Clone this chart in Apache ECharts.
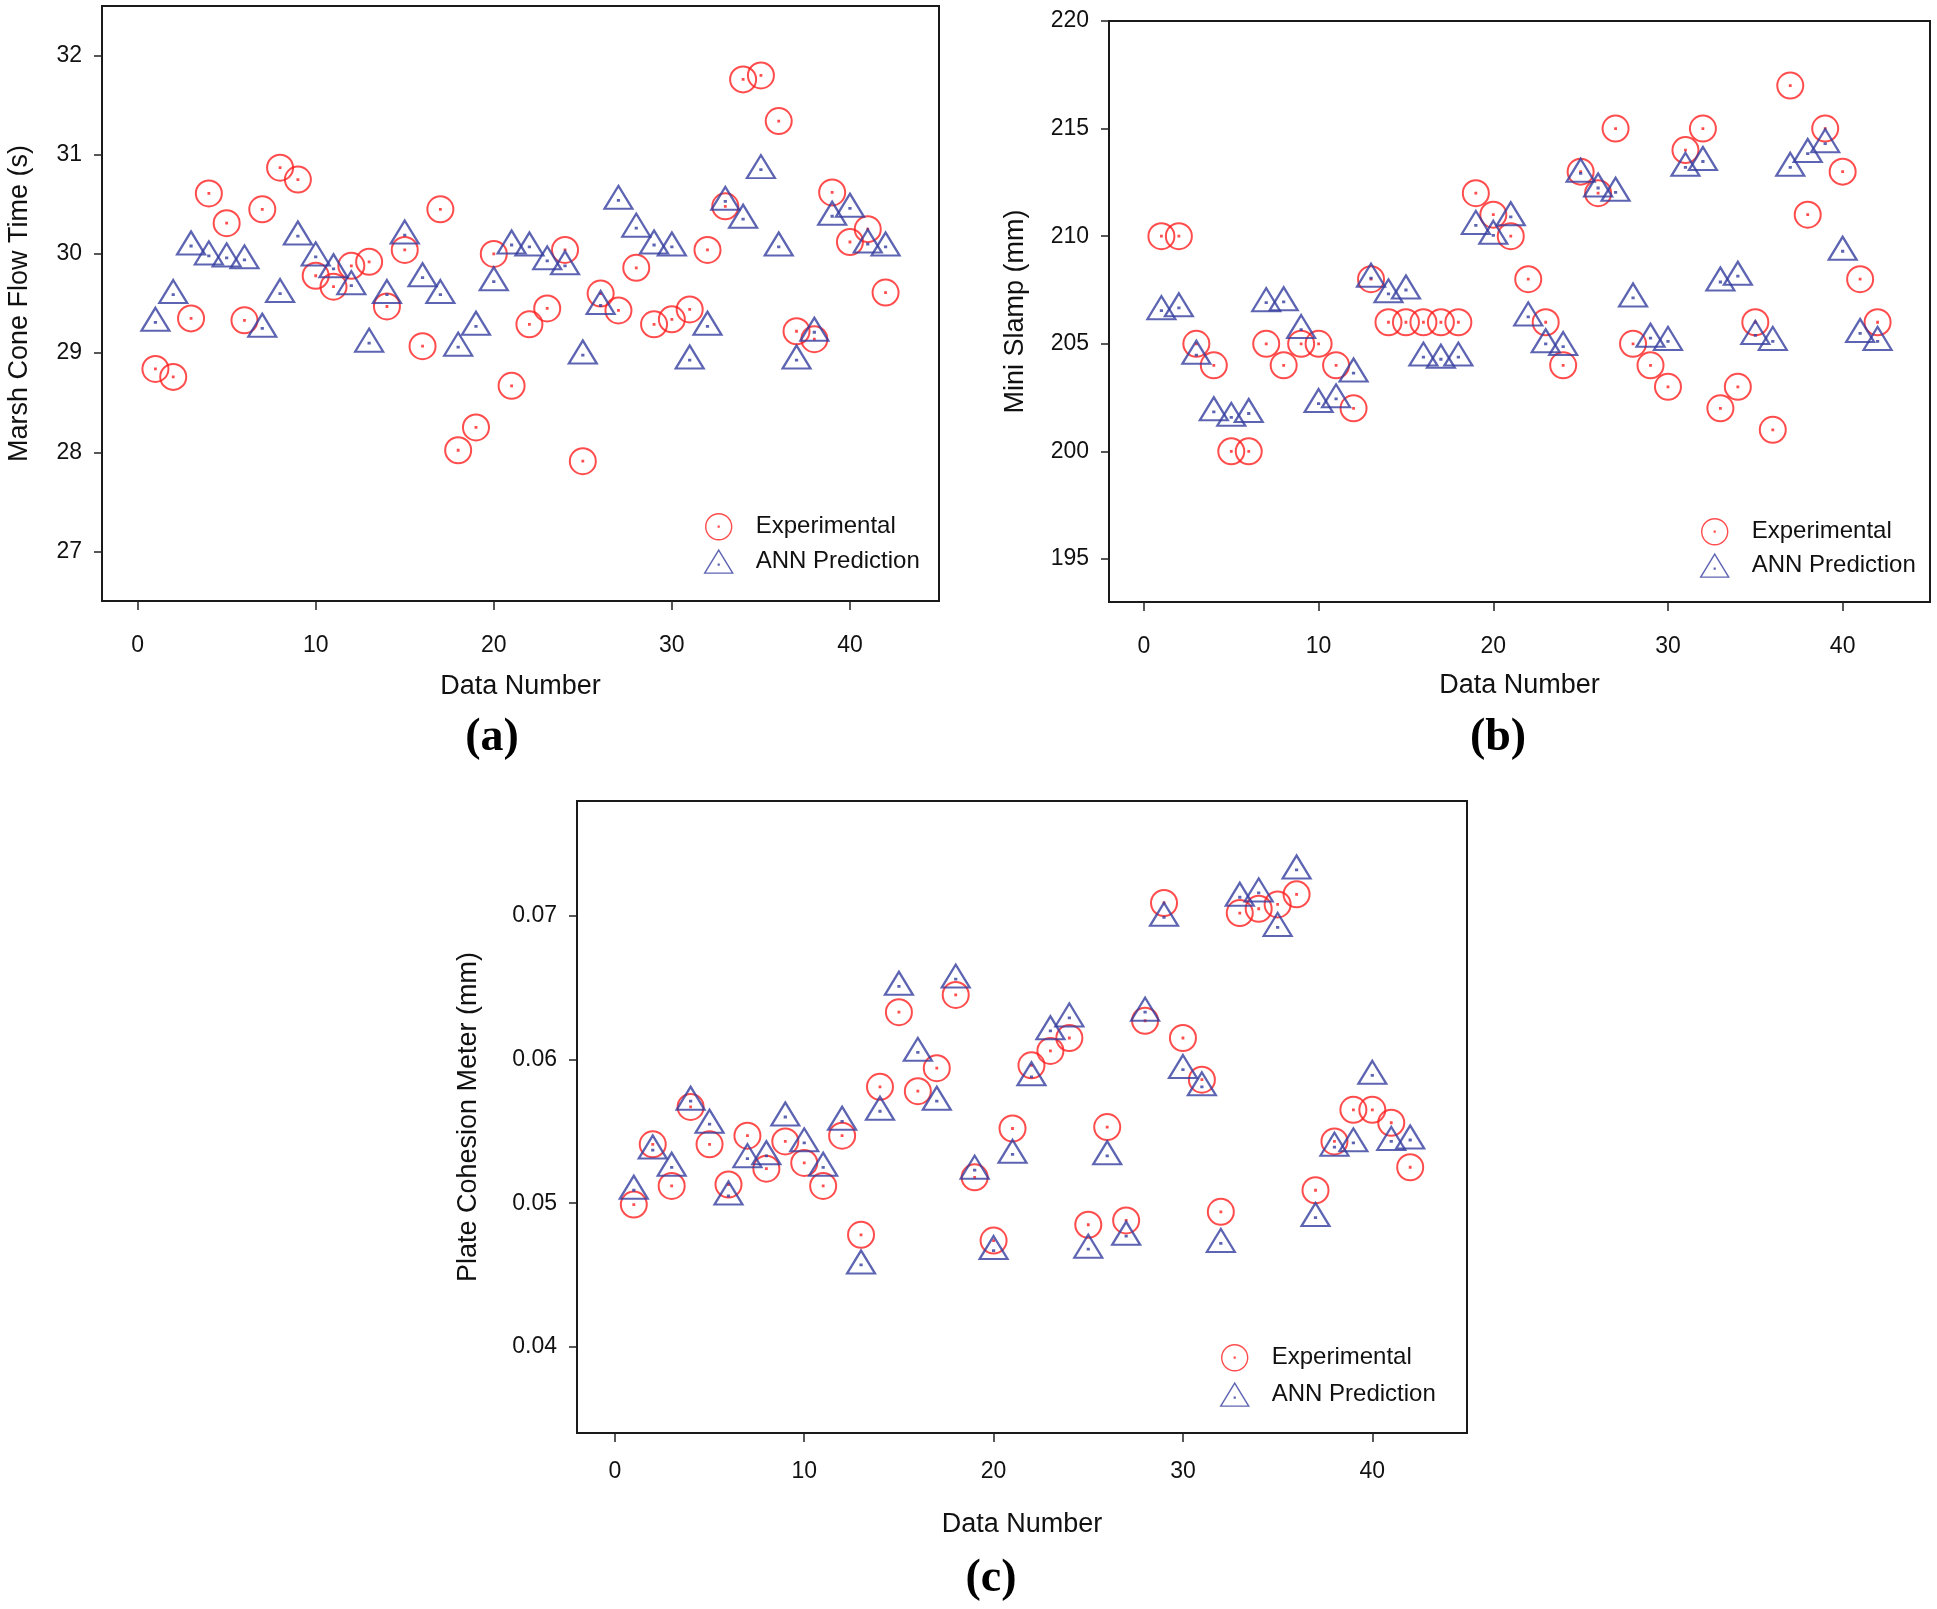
<!DOCTYPE html>
<html>
<head>
<meta charset="utf-8">
<title>Experimental vs ANN Prediction</title>
<script src="https://cdn.jsdelivr.net/npm/echarts@6/dist/echarts.min.js"></script>
<style>
  html, body { margin: 0; padding: 0; background: #fff; }
  #chart { width: 1937px; height: 1609px; }
</style>
</head>
<body>
<div id="chart"></div>
<script>
// x values, same for the three panels
const dataNumber = [1, 2, 3, 4, 5, 6, 7, 8, 9, 10, 11, 12, 13, 14, 15, 16, 17, 18, 19, 20, 21,
  22, 23, 24, 25, 26, 27, 28, 29, 30, 31, 32, 33, 34, 35, 36, 37, 38, 39, 40, 41, 42];

// (a) marsh cone flow time (s)
const marshExp = [28.84, 28.76, 29.35, 30.61, 30.31, 29.33, 30.45, 30.87, 30.75, 29.78, 29.67,
  29.88, 29.92, 29.47, 30.04, 29.07, 30.45, 28.02, 28.25, 30.0, 28.67, 29.29, 29.45, 30.04, 27.91,
  29.6, 29.43, 29.86, 29.29, 29.34, 29.44, 30.04, 30.48, 31.76, 31.8, 31.34, 29.22, 29.14, 30.62,
  30.12, 30.25, 29.61];
const marshAnn = [29.31, 29.59, 30.08, 29.98, 29.96, 29.94, 29.25, 29.6, 30.18, 29.97, 29.85,
  29.68, 29.1, 29.59, 30.19, 29.76, 29.59, 29.06, 29.27, 29.72, 30.09, 30.07, 29.93, 29.88, 28.98,
  29.48, 30.54, 30.26, 30.09, 30.07, 28.93, 29.27, 30.53, 30.35, 30.85, 30.07, 28.93, 29.21, 30.38,
  30.46, 30.1, 30.07];

// (b) mini slump (mm)
const slumpExp = [210, 210, 205, 204, 200, 200, 205, 204, 205, 205, 204, 202, 208, 206, 206, 206,
  206, 206, 212, 211, 210, 208, 206, 204, 213, 212, 215, 205, 204, 203, 214, 215, 202, 203, 206,
  201, 217, 211, 215, 213, 208, 206];
const slumpAnn = [206.54, 206.67, 204.47, 201.84, 201.58, 201.76, 206.91, 206.95, 205.66, 202.22,
  202.44, 203.64, 208.05, 207.32, 207.5, 204.38, 204.28, 204.38, 210.5, 210.04, 210.9, 206.25,
  205.0, 204.87, 212.92, 212.24, 212.04, 207.13, 205.26, 205.11, 213.2, 213.47, 207.87, 208.14,
  205.39, 205.11, 213.2, 213.84, 214.3, 209.3, 205.48, 205.11];

// (c) plate cohesion meter (mm)
const cohesionExp = [0.0499, 0.0541, 0.0512, 0.0567, 0.0541, 0.0513, 0.0547, 0.0524, 0.0543,
  0.0528, 0.0512, 0.0547, 0.0478, 0.0581, 0.0633, 0.0578, 0.0594, 0.0645, 0.0518, 0.0474, 0.0552,
  0.0596, 0.0606, 0.0615, 0.0485, 0.0553, 0.0488, 0.0627, 0.0709, 0.0615, 0.0586, 0.0494, 0.0702,
  0.0705, 0.0708, 0.0715, 0.0509, 0.0543, 0.0565, 0.0565, 0.0556, 0.0525];
const cohesionAnn = [0.0509, 0.0537, 0.0525, 0.0571, 0.0555, 0.0505, 0.0531, 0.0533, 0.056,
  0.0542, 0.0525, 0.0557, 0.0457, 0.0564, 0.0651, 0.0605, 0.0571, 0.0656, 0.0523, 0.0467, 0.0534,
  0.0588, 0.062, 0.0629, 0.0468, 0.0533, 0.0477, 0.0633, 0.0699, 0.0593, 0.0581, 0.0472, 0.0713,
  0.0716, 0.0692, 0.0732, 0.049, 0.0539, 0.0542, 0.0589, 0.0543, 0.0544];

// tick labels
const xTicks = [0, 10, 20, 30, 40];
const marshTicks = [27, 28, 29, 30, 31, 32];
const slumpTicks = [195, 200, 205, 210, 215, 220];
const cohesionTicks = [0.04, 0.05, 0.06, 0.07];

const RED = '#ff2020';
const BLUE = '#353d9f';
const FONT = '"Liberation Sans", Arial, sans-serif';
// open circle / open triangle, each with a small dot in the middle
const circleSym = 'path://M0,13A13,13 0 1 0 26,13A13,13 0 1 0 0,13Z M12.6,12.6h0.8v0.8h-0.8Z';
const triSym = 'path://M14,0L28,23L0,23Z M13.6,14.1h0.8v0.8h-0.8Z';

const chart = echarts.init(document.getElementById('chart'));

const grids = [
  { left: 102, top: 6, width: 837, height: 595 },
  { left: 1109, top: 21, width: 821, height: 581 },
  { left: 577, top: 801, width: 890, height: 632 }
];

const xAxisFor = (i, nameGap, labelMargin) => ({
  type: 'value',
  gridIndex: i,
  min: -2,
  max: 45,
  name: 'Data Number',
  nameLocation: 'middle',
  nameGap: nameGap,
  nameTextStyle: { fontFamily: FONT, fontSize: 27, color: '#111' },
  axisLine: { show: false, onZero: false },
  axisTick: { show: true, length: 9, customValues: xTicks, lineStyle: { color: '#222', width: 1.5 } },
  axisLabel: { customValues: xTicks, margin: labelMargin, fontFamily: FONT, fontSize: 23, color: '#111' },
  splitLine: { show: false }
});

const yAxisFor = (i, name, min, max, ticks, nameGap) => ({
  type: 'value',
  gridIndex: i,
  min: min,
  max: max,
  name: name,
  nameLocation: 'middle',
  nameGap: nameGap,
  nameTextStyle: { fontFamily: FONT, fontSize: 27, color: '#111' },
  axisLine: { show: false, onZero: false },
  axisTick: { show: true, length: 8, customValues: ticks, lineStyle: { color: '#222', width: 1.5 } },
  axisLabel: { customValues: ticks, margin: 20, fontFamily: FONT, fontSize: 23, color: '#111' },
  splitLine: { show: false }
});

const expSeries = (i, values) => ({
  name: 'Experimental',
  type: 'scatter',
  xAxisIndex: i,
  yAxisIndex: i,
  symbol: circleSym,
  symbolSize: 26,
  itemStyle: { color: 'transparent', borderColor: RED, borderWidth: 2 },
  emphasis: { disabled: true },
  data: dataNumber.map((x, k) => [x, values[k]])
});

const annSeries = (i, values) => ({
  name: 'ANN Prediction',
  type: 'scatter',
  xAxisIndex: i,
  yAxisIndex: i,
  symbol: triSym,
  symbolSize: [28, 23],
  symbolOffset: [0, -3],
  itemStyle: { color: 'transparent', borderColor: BLUE, borderWidth: 2.2 },
  emphasis: { disabled: true },
  data: dataNumber.map((x, k) => [x, values[k]])
});

const legendAt = (left, top, gap) => ({
  left: left,
  top: top,
  orient: 'vertical',
  itemWidth: 28,
  itemHeight: 26,
  itemGap: gap,
  selectedMode: false,
  itemStyle: { borderWidth: 1.4 },
  textStyle: { fontFamily: FONT, fontSize: 24, color: '#111', padding: [0, 0, 0, 18] },
  data: ['Experimental', 'ANN Prediction']
});

const panelLabel = (text, x, y) => ({
  type: 'text',
  x: x,
  y: y,
  style: {
    text: text,
    fontFamily: '"Liberation Serif", "Times New Roman", serif',
    fontWeight: 'bold',
    fontSize: 46,
    fill: '#000',
    align: 'center',
    verticalAlign: 'middle',
    textAlign: 'center',
    textVerticalAlign: 'middle'
  }
});

const option = {
  animation: false,
  backgroundColor: '#fff',
  grid: grids.map(g => ({
    ...g,
    show: true,
    borderColor: '#1a1a1a',
    borderWidth: 2,
    backgroundColor: 'transparent',
    containLabel: false,
    outerBoundsMode: 'none'
  })),
  xAxis: [xAxisFor(0, 72, 33), xAxisFor(1, 70, 33), xAxisFor(2, 78, 27)],
  yAxis: [
    yAxisFor(0, 'Marsh Cone Flow Time (s)', 26.5, 32.5, marshTicks, 69),
    yAxisFor(1, 'Mini Slamp (mm)', 193, 220, slumpTicks, 80),
    yAxisFor(2, 'Plate Cohesion Meter (mm)', 0.034, 0.078, cohesionTicks, 95)
  ],
  legend: [legendAt(699, 508, 9), legendAt(1695, 513, 8), legendAt(1215, 1339, 11)],
  series: [
    expSeries(0, marshExp), annSeries(0, marshAnn),
    expSeries(1, slumpExp), annSeries(1, slumpAnn),
    expSeries(2, cohesionExp), annSeries(2, cohesionAnn)
  ],
  graphic: [
    panelLabel('(a)', 492, 738),
    panelLabel('(b)', 1498, 738),
    panelLabel('(c)', 991, 1579)
  ]
};

chart.setOption(option);
window.addEventListener('resize', () => chart.resize());
</script>
</body>
</html>
